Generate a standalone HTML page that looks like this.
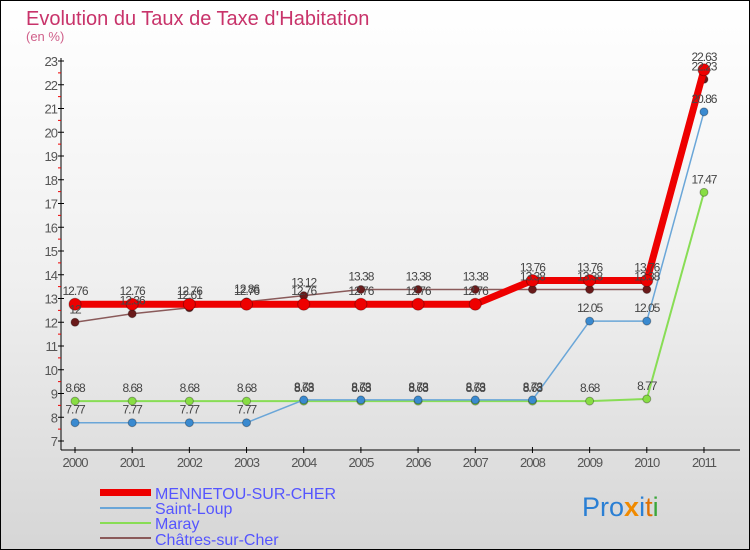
<!DOCTYPE html>
<html><head><meta charset="utf-8"><style>
body{margin:0}
#c{width:750px;height:550px;position:relative;box-sizing:border-box;border:1px solid #000;background:linear-gradient(#fff 0%,#f0f0f0 50%,#d6d6d6 100%);font-family:"Liberation Sans",sans-serif;overflow:hidden}
</style></head><body>
<div id="c">
<svg id="s" width="750" height="550" style="position:absolute;left:-1px;top:-1px">
<text x="26" y="25" font-size="20" fill="#c8336a">Evolution du Taux de Taxe d'Habitation</text>
<text x="26" y="41" font-size="13" fill="#d0608a">(en %)</text>
<g id="ax"></g><g id="ser"></g><g id="lab"></g>
<g font-size="16" fill="#5555ff">
<rect x="100" y="489" width="51" height="7" fill="#e00"/>
<text x="155" y="499">MENNETOU-SUR-CHER</text>
<rect x="100" y="507" width="51" height="2" fill="#6aa6d8"/>
<text x="155" y="514">Saint-Loup</text>
<rect x="100" y="522" width="51" height="2" fill="#88dd55"/>
<text x="155" y="529">Maray</text>
<rect x="100" y="537" width="51" height="2" fill="#8a5a5a"/>
<text x="155" y="545">Châtres-sur-Cher</text>
</g>
<text x="582" y="516" font-size="27"><tspan fill="#2a7fd4">Pro</tspan><tspan fill="#f08a00" font-weight="bold">x</tspan><tspan fill="#2a7fd4">i</tspan><tspan fill="#e07000">t</tspan><tspan fill="#3aa63a">i</tspan></text>
</svg>
</div>
<script>
const years=[2000,2001,2002,2003,2004,2005,2006,2007,2008,2009,2010,2011];
const mennetou=[12.76,12.76,12.76,12.76,12.76,12.76,12.76,12.76,13.76,13.76,13.76,22.63];
const saintLoup=[7.77,7.77,7.77,7.77,8.73,8.73,8.73,8.73,8.73,12.05,12.05,20.86];
const maray=[8.68,8.68,8.68,8.68,8.68,8.68,8.68,8.68,8.68,8.68,8.77,17.47];
const chatres=[12,12.36,12.61,12.86,13.12,13.38,13.38,13.38,13.38,13.38,13.38,22.23];
const yTicks=[7,8,9,10,11,12,13,14,15,16,17,18,19,20,21,22,23];
const NS='http://www.w3.org/2000/svg';
const X=i=>75+i*57.18, Y=v=>441-(v-7)*23.75;
function mk(t,a,p){const e=document.createElementNS(NS,t);for(const k in a)e.setAttribute(k,a[k]);p.appendChild(e);return e;}
const ax=document.getElementById('ax'),ser=document.getElementById('ser'),lab=document.getElementById('lab');
let e=mk('line',{x1:61,y1:58,x2:61,y2:450,stroke:'#000'},ax);


e=mk('line',{x1:61,y1:450,x2:740,y2:450,stroke:'#000'},ax);


yTicks.forEach(v=>{
 mk('line',{x1:58,x2:64,y1:Y(v),y2:Y(v),stroke:'#000'},ax);
 if(v<23)mk('line',{x1:58,x2:61,y1:Y(v+0.5),y2:Y(v+0.5),stroke:'#e00'},ax);
 const t=mk('text',{x:57,y:Y(v)+5,'font-size':13,fill:'#555','text-anchor':'end','letter-spacing':'-1'},ax);t.textContent=v;
 
 
});
years.forEach((y,i)=>{
 mk('line',{x1:X(i),x2:X(i),y1:447,y2:453,stroke:'#000'},ax);
 const t=mk('text',{x:X(i),y:467,'font-size':13,fill:'#555','text-anchor':'middle','letter-spacing':'-1'},ax);t.textContent=y;
 
 
});
function series(d,name,col,w,r,dot){
 const g=mk('g',{},ser);
 
 
 mk('polyline',{points:d.map((v,i)=>X(i)+','+Y(v)).join(' '),fill:'none',stroke:col,'stroke-width':w,'stroke-linejoin':'round'},g);
 d.forEach((v,i)=>{
  const c=mk('circle',{cx:X(i),cy:Y(v),r:r,fill:dot,stroke:'rgba(0,0,0,0.3)'},g);
  
  
  const t=mk('text',{x:X(i),y:Y(v)-9,'font-size':12,fill:'#444','text-anchor':'middle','letter-spacing':'-1'},lab);t.textContent=v;
  
  
 });
}
series(maray,'maray','#88dd55',2,4,'#88dd44');
series(saintLoup,'saint-loup','#6aa6d8',1.5,4,'#3a8ad0');
series(chatres,'chatres','#8a5a5a',1.5,4,'#6a1a1a');
series(mennetou,'mennetou','#ee0000',7,6,'#ee0000');
</script>
</body></html>
